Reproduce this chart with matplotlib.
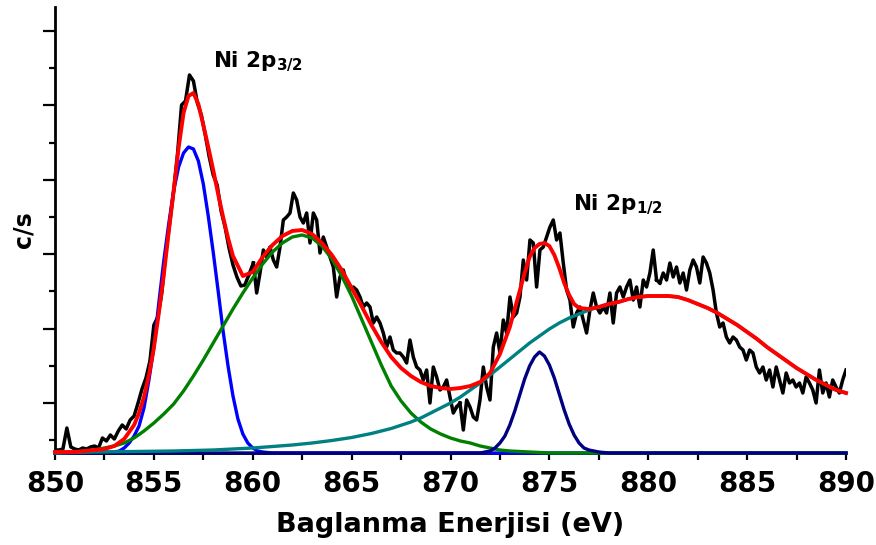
import numpy as np
import matplotlib.pyplot as plt

plt.rcParams['font.family'] = 'DejaVu Sans'
plt.rcParams['font.weight'] = 'bold'
plt.rcParams['mathtext.fontset'] = 'custom'
plt.rcParams['mathtext.bf'] = 'DejaVu Sans:bold'

# measured spectrum (intensity above baseline, arbitrary c/s units), read in 4 pieces
seg_a = [3, 3, 4, 25, 6, 4, 3, 5, 4, 6,
         7, 5, 15, 12, 18, 14, 22, 28, 24, 33,
         37, 50, 64, 75, 92, 128, 136, 160, 200, 230,
         262, 300, 348, 352, 378, 372, 350, 338, 318, 296,
         278, 268, 242, 226, 205, 188, 176, 167, 168, 178]
seg_b = [190, 160, 180, 203, 196, 206, 193, 186, 206, 233,
         236, 240, 260, 253, 236, 230, 240, 210, 240, 233,
         200, 216, 206, 196, 186, 156, 176, 183, 170, 163,
         166, 163, 156, 146, 150, 146, 130, 136, 130, 120,
         106, 116, 103, 100, 100, 96, 90, 113, 96, 86,
         83, 73, 83, 50, 86, 76, 63, 66, 73, 56,
         40, 46]
seg_c = [50, 23, 53, 46, 36, 33, 53, 86, 66, 53,
         106, 120, 100, 133, 120, 156, 136, 140, 156, 193,
         173, 213, 210, 166, 203, 206, 216, 226, 233, 213,
         220, 190, 163, 153, 126, 140, 146, 133, 120, 143,
         160, 146, 140, 146, 140, 160, 130, 160, 166, 156,
         166, 173, 153, 166, 146, 173, 166, 180, 203, 173]
seg_d = [170, 180, 173, 190, 176, 186, 170, 180, 163, 183,
         193, 186, 170, 196, 190, 180, 163, 140, 126, 130,
         116, 110, 116, 113, 106, 103, 93, 103, 100, 86,
         80, 86, 73, 83, 66, 86, 73, 60, 80, 70,
         73, 66, 70, 60, 76, 70, 63, 50, 83, 60,
         70, 56, 73, 66, 60, 73, 83]
seg_ranges = [(850.0, 859.8), (860.03, 870.31), (870.48, 880.42), (880.59, 890.0)]

# fit envelope
fit_x = [850, 850.5, 851, 851.5, 852, 852.5, 853, 853.5, 854, 854.25,
         854.5, 854.75, 855, 855.25, 855.5, 855.75, 856, 856.25, 856.5, 856.75,
         857, 857.25, 857.5, 857.75, 858, 858.25, 858.5, 858.75, 859, 859.5,
         860, 860.5, 861, 861.5, 862, 862.5, 863, 863.5, 864, 864.5,
         865, 865.5, 866, 866.5, 867, 867.5, 868, 868.5, 869, 869.5,
         870, 870.5, 871, 871.5, 872, 872.5, 873, 873.25, 873.5, 873.75,
         874, 874.25, 874.5, 874.75, 875, 875.25, 875.5, 875.75, 876, 876.25,
         876.5, 877, 877.5, 878, 878.5, 879, 879.5, 880, 880.5, 881,
         881.5, 882, 882.5, 883, 883.5, 884, 884.5, 885, 885.5, 886,
         886.5, 887, 887.5, 888, 888.5, 889, 889.5, 890]
fit_y = [1, 1, 1, 2, 3, 4, 7, 14, 28, 40,
         56, 78, 105, 140, 178, 221, 262, 305, 340, 357,
         360, 349, 328, 306, 283, 259, 236, 215, 197, 177,
         181, 196, 208, 217, 222, 223, 219, 210, 198, 183,
         165, 147, 128, 111, 96, 85, 77, 71, 67, 65,
         64, 65, 67, 71, 80, 99, 126, 144, 162, 180,
         196, 205, 209, 210, 207, 198, 185, 170, 158, 149,
         145, 144, 146, 149, 151, 154, 156, 157, 157, 157,
         156, 153, 149, 145, 140, 134, 128, 121, 114, 106,
         99, 92, 85, 79, 73, 68, 63, 60]

# Ni 2p3/2 main peak
p1_x = [850, 853, 853.25, 853.5, 853.75, 854, 854.25, 854.5, 854.75, 855,
        855.25, 855.5, 855.75, 856, 856.25, 856.5, 856.75, 857, 857.25, 857.5,
        857.75, 858, 858.25, 858.5, 858.75, 859, 859.25, 859.5, 859.75, 860,
        860.25, 860.5, 861, 890]
p1_y = [0, 1, 2, 5, 10, 17, 27, 45, 73, 106,
        150, 192, 229, 262, 286, 300, 306, 304, 292, 269,
        237, 201, 162, 122, 87, 57, 34, 19, 10, 5,
        2, 1, 0, 0]

# satellite of 2p3/2
p2_x = [850, 851, 851.5, 852, 852.5, 853, 853.5, 854, 854.5, 855,
        855.5, 856, 856.5, 857, 857.5, 858, 858.5, 859, 859.5, 860,
        860.5, 861, 861.5, 862, 862.5, 863, 863.5, 864, 864.5, 865,
        865.5, 866, 866.5, 867, 867.5, 868, 868.5, 869, 869.5, 870,
        870.5, 871, 871.5, 872, 872.5, 873, 874, 875, 890]
p2_y = [0, 1, 2, 3, 5, 7, 10, 15, 22, 30,
        39, 49, 62, 77, 93, 110, 127, 144, 160, 175,
        189, 201, 210, 216, 218, 215, 207, 194, 177, 157,
        134, 111, 88, 67, 52, 40, 31, 24, 19, 15,
        12, 10, 7, 5, 3, 2, 1, 0, 0]

# Ni 2p1/2 peak
p3_x = [850, 871.5, 872, 872.25, 872.5, 872.75, 873, 873.25, 873.5, 873.75,
        874, 874.25, 874.5, 874.75, 875, 875.25, 875.5, 875.75, 876, 876.25,
        876.5, 876.75, 877, 877.5, 878, 890]
p3_y = [0, 0, 2, 5, 10, 17, 28, 42, 58, 74,
        87, 96, 101, 97, 88, 75, 59, 43, 29, 18,
        10, 5, 3, 1, 0, 0]

# broad satellite of 2p1/2
p4_x = [850, 852, 854, 856, 858, 859, 860, 861, 862, 863,
        864, 865, 866, 867, 868, 868.5, 869, 869.5, 870, 870.5,
        871, 871.5, 872, 872.5, 873, 873.5, 874, 874.5, 875, 875.5,
        876, 876.5, 877, 877.5, 878, 878.5, 879, 879.5, 880, 880.5,
        881, 881.5, 882, 882.5, 883, 883.5, 884, 884.5, 885, 885.5,
        886, 886.5, 887, 887.5, 888, 888.5, 889, 889.5, 890]
p4_y = [0, 1, 1.5, 2, 3, 4, 5, 6.5, 8, 10,
        12.5, 15.5, 19.5, 24.5, 31, 35, 40, 45, 50, 56,
        63, 70, 78, 86, 94, 102, 110, 117, 124, 130,
        135, 139, 143, 146, 149, 151, 154, 156, 157, 157,
        157, 156, 153, 149, 145, 140, 134, 128, 121, 114,
        106, 99, 92, 85, 79, 73, 68, 63, 60]

fig = plt.figure(figsize=(8.76, 5.45), dpi=100)
ax = fig.add_axes([55 / 876, 92 / 545, 791 / 876, 446 / 545])

for (x0, x1), seg in zip(seg_ranges, [seg_a, seg_b, seg_c, seg_d]):
    ax.plot(np.linspace(x0, x1, len(seg)), seg, color='black', lw=2.5, zorder=2)
ax.plot([859.8, 860.03], [seg_a[-1], seg_b[0]], color='black', lw=2.5, zorder=2)
ax.plot([870.31, 870.48], [seg_b[-1], seg_c[0]], color='black', lw=2.5, zorder=2)
ax.plot([880.42, 880.59], [seg_c[-1], seg_d[0]], color='black', lw=2.5, zorder=2)

ax.plot(p1_x, p1_y, color='#0000ff', lw=2.4, zorder=3, clip_on=False)
ax.plot(p2_x, p2_y, color='#008000', lw=2.4, zorder=3, clip_on=False)
ax.plot(p3_x, p3_y, color='#000080', lw=2.4, zorder=3, clip_on=False)
ax.plot(p4_x, p4_y, color='#008080', lw=2.4, zorder=3, clip_on=False)
ax.plot(fit_x, fit_y, color='#ff0000', lw=2.8, zorder=4, clip_on=False)

ax.set_xlim(850, 890)
ax.set_ylim(0, 446)
ax.set_xticks(np.arange(850, 891, 5))
ax.set_xticks(np.arange(852.5, 890, 5), minor=True)
ax.set_yticks(np.arange(50, 446, 74.4))
ax.set_yticks(np.arange(12.8, 446, 74.4), minor=True)
ax.set_yticklabels([])
ax.spines['top'].set_visible(False)
ax.spines['right'].set_visible(False)
ax.spines['left'].set_linewidth(2)
ax.spines['bottom'].set_linewidth(2)
ax.tick_params(axis='y', which='major', length=8.5, width=1.6)
ax.tick_params(axis='y', which='minor', length=4.3, width=1.6)
ax.tick_params(axis='x', which='both', length=5, width=1.6, labelsize=20, pad=7)

ax.set_xlabel('Baglanma Enerjisi (eV)', fontsize=19.5, fontweight='bold', labelpad=10)
ax.set_ylabel('c/s', fontsize=17, fontweight='bold', labelpad=2)

ax.text(858.0, 386, r'Ni 2p$_{\mathbf{3/2}}$', fontsize=15.5, fontweight='bold', va='baseline')
ax.text(876.2, 243, r'Ni 2p$_{\mathbf{1/2}}$', fontsize=15.5, fontweight='bold', va='baseline')

fig.savefig('out.png', dpi=100)
